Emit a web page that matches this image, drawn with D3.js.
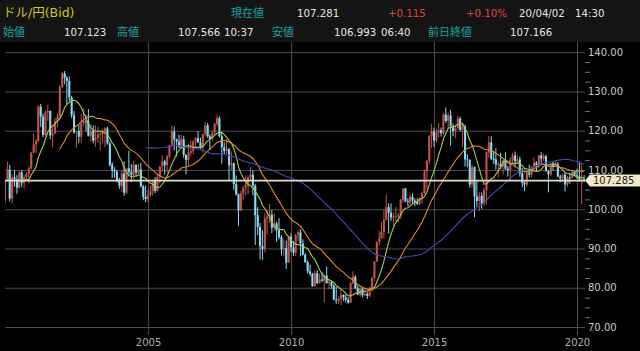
<!DOCTYPE html>
<html>
<head>
<meta charset="utf-8">
<script src="https://cdn.jsdelivr.net/npm/d3@7"></script>
<style>
  body { margin: 0; background: #000; }
  svg { display: block; }
  text { font-family: "DejaVu Sans", "Noto Sans CJK JP", sans-serif; }
</style>
</head>
<body>
<div id="chart"></div>
<script>
// USD/JPY monthly, Jan 2000 .. Apr 2020 (open of each month = previous close)
const firstOpen = 102.2;
const closes = [
  107.3,110.1,102.7,108.1,107.6,105.5,109.4,106.7,108.2,108.9,110.4,114.4,
  116.5,117.4,126.1,123.6,118.9,124.7,125.0,118.8,119.3,122.4,123.6,131.1,
  134.6,133.5,132.7,128.5,123.9,119.6,119.9,118.5,121.8,122.5,122.4,118.7,
  119.9,117.5,118.1,119.0,119.3,119.9,120.6,116.8,111.3,109.9,109.6,107.2,
  105.9,109.1,104.2,110.4,109.5,108.8,111.3,109.3,110.1,105.8,103.1,102.6,
  103.7,104.6,107.1,104.7,108.3,110.9,112.2,111.2,113.4,116.3,119.8,117.8,
  117.2,115.9,117.8,113.9,112.5,114.4,114.8,117.4,118.1,117.0,115.8,119.1,
  121.4,118.6,117.9,119.5,121.7,123.2,118.6,115.8,114.8,115.3,111.2,111.7,
  106.4,103.8,99.7,104.0,105.5,106.2,108.1,108.8,106.0,98.5,95.5,90.6,
  89.9,97.6,98.1,98.6,95.3,96.4,94.7,92.9,89.8,90.1,86.4,93.0,
  90.3,88.9,93.4,94.1,91.3,88.4,86.5,84.2,83.5,80.4,83.7,81.2,
  82.1,81.8,83.1,81.2,81.5,80.5,77.0,76.7,77.1,78.2,77.6,76.9,
  76.2,81.2,82.8,79.9,78.3,79.8,78.1,78.4,77.9,79.8,82.5,86.7,
  91.7,92.6,94.2,97.4,100.5,99.1,97.9,98.2,98.3,98.4,102.4,105.3,
  102.0,101.8,103.2,102.2,101.8,101.3,102.8,104.1,109.6,112.3,118.6,119.8,
  117.5,119.6,120.1,119.4,124.1,122.5,123.9,121.2,119.9,120.6,123.1,120.2,
  121.1,112.7,112.6,106.3,110.7,103.2,102.1,103.4,101.3,104.8,114.5,117.0,
  112.8,112.7,111.4,111.5,110.8,112.4,110.3,110.0,112.5,113.7,112.2,112.7,
  109.2,106.7,106.3,109.3,108.8,110.8,111.9,111.0,113.7,112.9,113.5,109.7,
  108.9,111.4,110.9,111.4,108.3,107.9,108.8,106.3,108.1,108.0,109.5,108.6,
  108.4,107.5,107.6,107.281
];
const highs = [
  107.4,112.1,111.3,108.9,110.0,108.7,109.7,109.9,108.8,109.4,111.0,114.6,
  119.3,117.9,126.5,126.8,124.3,125.2,126.6,125.2,121.6,123.3,124.4,131.6,
  135.0,135.2,133.9,133.8,128.9,125.0,120.0,121.5,124.3,125.7,124.0,125.5,
  121.6,121.4,121.4,121.0,119.6,120.5,120.9,121.0,117.2,112.0,110.7,110.0,
  108.0,110.0,112.2,110.6,114.9,111.5,112.3,111.5,111.5,111.8,106.2,106.0,
  105.0,106.0,107.5,108.2,108.7,111.0,113.7,112.6,113.8,116.4,121.4,121.0,
  118.0,119.0,119.0,118.7,113.9,116.7,117.5,117.5,118.3,119.9,118.2,119.3,
  122.2,122.0,119.1,120.0,122.0,124.1,123.7,119.8,117.0,117.9,115.6,114.7,
  111.9,108.6,104.0,104.7,105.9,108.6,108.6,110.7,110.0,106.4,100.5,96.5,
  94.6,98.9,99.7,101.4,99.8,98.9,96.9,97.7,93.4,92.3,92.0,93.1,
  93.8,91.9,93.7,94.8,94.9,92.3,88.9,87.0,85.9,83.8,84.4,84.5,
  83.6,83.9,83.3,85.5,82.2,81.7,81.0,80.2,77.9,79.5,78.3,78.3,
  77.6,81.4,84.2,83.2,80.6,80.6,80.1,79.7,78.9,80.3,82.8,86.8,
  91.8,94.5,96.7,99.9,103.7,101.5,101.5,99.1,100.6,99.0,102.6,105.4,
  105.4,102.8,103.8,104.1,102.8,102.8,103.1,104.5,110.1,112.5,118.9,121.8,
  120.8,120.5,122.0,120.8,124.5,125.9,124.6,125.3,121.8,121.5,123.8,123.6,
  121.7,121.5,114.0,112.7,111.4,110.9,107.5,104.3,104.3,105.5,114.8,118.7,
  118.6,114.9,115.5,112.2,114.4,112.5,114.5,111.0,113.2,114.4,114.7,113.7,
  113.4,110.5,107.3,109.6,111.4,111.0,113.2,112.2,113.8,114.6,114.2,113.8,
  110.0,111.5,112.1,112.4,112.0,108.8,109.0,109.3,108.5,109.3,109.7,109.7,
  110.3,112.2,111.7,108.7
];
const lows = [
  101.4,107.0,102.0,101.5,105.8,103.9,105.3,105.7,105.3,107.3,106.6,110.2,
  114.3,114.3,117.2,121.0,118.4,118.6,122.5,117.8,115.8,119.2,120.9,122.9,
  130.8,131.8,126.6,127.5,123.2,119.2,115.6,116.9,116.9,121.3,119.8,118.5,
  117.2,116.8,115.9,116.8,115.0,116.9,115.8,116.4,110.8,107.9,108.0,106.8,
  105.2,104.4,103.4,103.8,108.6,106.9,107.6,108.4,108.9,105.5,102.3,101.8,
  101.7,103.2,103.5,104.1,104.5,106.6,109.5,108.8,109.3,112.9,116.0,115.0,
  113.4,115.6,115.4,113.1,108.9,111.2,113.6,113.9,115.5,116.9,115.4,114.4,
  118.5,118.2,115.1,117.4,118.9,121.2,118.3,111.6,113.9,114.1,107.2,109.8,
  104.9,103.5,95.8,99.5,102.4,103.5,103.8,107.3,103.5,90.9,93.4,87.2,
  87.1,89.0,93.5,96.5,93.9,94.5,91.7,92.3,88.2,88.0,84.8,86.3,
  89.1,88.1,88.1,92.0,88.0,88.2,86.3,83.6,82.9,80.2,80.3,80.9,
  81.0,81.5,76.3,81.0,79.6,79.7,76.8,75.9,75.9,75.6,76.6,76.3,
  75.9,76.1,80.9,79.6,78.1,77.7,77.6,77.9,77.1,77.6,79.0,81.7,
  86.5,90.8,92.5,92.6,97.1,93.8,97.0,95.8,96.9,96.6,97.6,101.6,
  101.8,100.8,101.2,101.4,100.8,101.1,101.1,101.5,103.8,105.2,111.6,115.6,
  115.9,116.9,118.3,118.5,118.9,122.0,120.4,116.2,118.6,118.1,120.3,119.8,
  115.9,110.9,110.7,105.5,105.5,98.0,100.7,99.5,100.1,100.9,101.2,113.1,
  112.5,111.6,110.1,108.1,110.2,108.8,110.0,108.3,107.3,111.7,110.8,111.9,
  108.3,105.6,104.6,105.7,108.1,108.1,110.3,109.8,110.4,111.4,112.3,109.6,
  104.3,108.5,109.7,110.8,108.2,106.8,107.2,104.5,105.7,106.5,107.9,108.4,
  107.7,107.0,101.2,106.9
];
const maPeriods = [9, 24, 60];
const yTicks = [70, 80, 90, 100, 110, 120, 130, 140];
const xTickYears = [2005, 2010, 2015, 2020];
const lastPrice = 107.285;

const header1 = [
  { x: 3,   t: "ドル/円(Bid)", c: "#c8c81e", s: 12.5 },
  { x: 231, t: "現在値", c: "#16a3a6", s: 11 },
  { x: 297, t: "107.281", c: "#e4e4e4", s: 10.2 },
  { x: 388, t: "+0.115", c: "#e0443c", s: 10.2 },
  { x: 466, t: "+0.10%", c: "#e0443c", s: 10.2 },
  { x: 519, t: "20/04/02", c: "#e4e4e4", s: 10.2 },
  { x: 575, t: "14:30", c: "#e4e4e4", s: 10.2 }
];
const header2 = [
  { x: 3,   t: "始値", c: "#16a3a6", s: 11 },
  { x: 64,  t: "107.123", c: "#e4e4e4", s: 10.2 },
  { x: 117, t: "高値", c: "#16a3a6", s: 11 },
  { x: 178, t: "107.566", c: "#e4e4e4", s: 10.2 },
  { x: 224, t: "10:37", c: "#e4e4e4", s: 10.2 },
  { x: 272, t: "安値", c: "#16a3a6", s: 11 },
  { x: 334, t: "106.993", c: "#e4e4e4", s: 10.2 },
  { x: 381, t: "06:40", c: "#e4e4e4", s: 10.2 },
  { x: 428, t: "前日終値", c: "#16a3a6", s: 11 },
  { x: 510, t: "107.166", c: "#e4e4e4", s: 10.2 }
];

const width = 640, height = 351;
const plot = { left: 5, right: 585, top: 42, bottom: 335 };

const data = closes.map((c, i) => ({
  date: new Date(2000, i, 1),
  o: i === 0 ? firstOpen : closes[i - 1],
  h: highs[i], l: lows[i], c: c
}));

const x = d3.scaleTime()
  .domain([new Date(2000, 0, 1), new Date(2020, 0, 1)])
  .range([5, 577]);
const y = d3.scaleLinear().domain([70, 120]).range([327, 130.7]);

const svg = d3.select("#chart").append("svg")
  .attr("width", width).attr("height", height);

svg.append("rect").attr("width", width).attr("height", height).attr("fill", "#000");
svg.append("rect").attr("width", width).attr("height", 42).attr("fill", "#141414");

svg.append("defs").append("clipPath").attr("id", "clip")
  .append("rect")
  .attr("x", plot.left).attr("y", plot.top)
  .attr("width", plot.right - plot.left).attr("height", plot.bottom - plot.top);

// header
[[header1, 17], [header2, 36]].forEach(([row, by]) => {
  svg.append("g").selectAll("text").data(row).enter().append("text")
    .attr("x", d => d.x).attr("y", by)
    .attr("fill", d => d.c)
    .style("font-size", d => d.s + "px")
    .text(d => d.t);
});

// grid + axes
const yAxis = d3.axisRight(y)
  .tickValues(yTicks)
  .tickSize(-(plot.right - plot.left))
  .tickPadding(3)
  .tickFormat(d3.format(".2f"));
const gy = svg.append("g")
  .attr("transform", "translate(" + plot.right + ",0)")
  .call(yAxis);
gy.select(".domain").remove();
gy.selectAll("line").attr("stroke", "#4c4c4c");
gy.selectAll("text").attr("fill", "#c8c8c8").style("font-size", "10px");

const minor = d3.range(70, 140, 2.5).filter(v => v % 10 !== 0);
const gm = svg.append("g")
  .attr("transform", "translate(" + plot.right + ",0)")
  .call(d3.axisRight(y).tickValues(minor).tickSize(5).tickFormat(""));
gm.select(".domain").remove();
gm.selectAll("line").attr("stroke", "#777");

const xAxis = d3.axisBottom(x)
  .tickValues(xTickYears.map(yr => new Date(yr, 0, 1)))
  .tickSize(-(plot.bottom - plot.top))
  .tickPadding(4)
  .tickFormat(d3.timeFormat("%Y"));
const gx = svg.append("g")
  .attr("transform", "translate(0," + plot.bottom + ")")
  .call(xAxis);
gx.select(".domain").remove();
gx.selectAll("line").attr("stroke", "#4c4c4c");
gx.selectAll("text").attr("fill", "#b0b0b0").style("font-size", "10px");

// candles
const up = "#c0544c", down = "#8ad8f2";
const g = svg.append("g").attr("clip-path", "url(#clip)");
const bw = 2.1;
const candle = g.append("g").selectAll("g").data(data).enter().append("g");
candle.append("line")
  .attr("x1", d => x(d.date)).attr("x2", d => x(d.date))
  .attr("y1", d => y(d.h)).attr("y2", d => y(d.l))
  .attr("stroke", d => d.c >= d.o ? up : down)
  .attr("stroke-width", 1);
candle.append("rect")
  .attr("x", d => x(d.date) - bw / 2)
  .attr("width", bw)
  .attr("y", d => y(Math.max(d.o, d.c)))
  .attr("height", d => Math.max(0.8, Math.abs(y(d.o) - y(d.c))))
  .attr("fill", d => d.c >= d.o ? up : down);

// moving averages
const maColors = ["#a6cc45", "#de8a32", "#4646b4"];
maPeriods.forEach((p, k) => {
  const ma = data.map((d, i) => i < p - 1 ? null :
    { date: d.date, v: d3.mean(closes.slice(i - p + 1, i + 1)) });
  g.append("path")
    .datum(ma)
    .attr("fill", "none")
    .attr("stroke", maColors[k])
    .attr("stroke-width", 1.1)
    .attr("d", d3.line().defined(d => d).x(d => x(d.date)).y(d => y(d.v)));
});

// current price line and label
const yp = y(lastPrice);
svg.append("line")
  .attr("x1", plot.left).attr("x2", plot.right)
  .attr("y1", yp).attr("y2", yp)
  .attr("stroke", "#e6dcc2").attr("stroke-width", 1.6);
svg.append("path")
  .attr("d", "M" + plot.right + "," + yp + "L590," + (yp - 6) + "L640," + (yp - 6) +
    "L640," + (yp + 6) + "L590," + (yp + 6) + "Z")
  .attr("fill", "#f4e8cb");
svg.append("text")
  .attr("x", 593).attr("y", yp + 3.8)
  .attr("fill", "#1a1a1a")
  .style("font-size", "10px")
  .text(lastPrice.toFixed(3));
</script>
</body>
</html>
